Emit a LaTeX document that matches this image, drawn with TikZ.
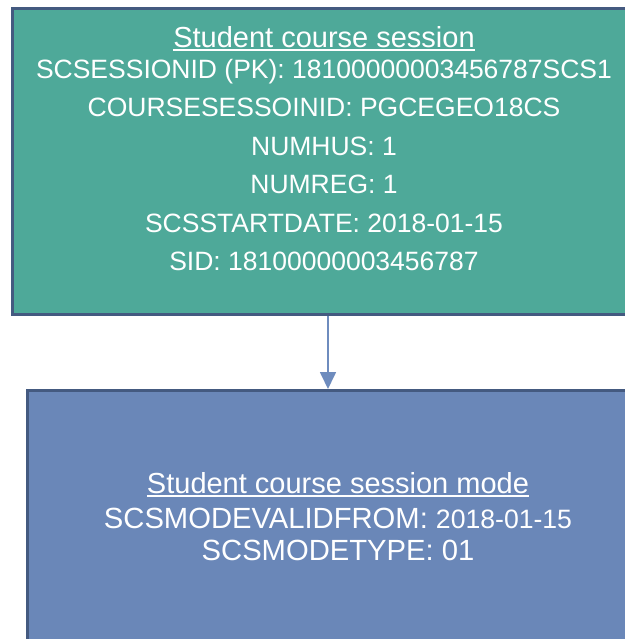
\documentclass[tikz,border=0pt]{standalone}
\usepackage{fontspec}
\setmainfont{Liberation Sans}
\usetikzlibrary{arrows.meta}
\definecolor{sessgreen}{HTML}{4EA999}
\definecolor{modeblue}{HTML}{6A87B8}
\definecolor{boxline}{HTML}{445A80}
\definecolor{linkblue}{HTML}{6E8CBE}
\newcommand{\headline}[1]{\setbox0\hbox{#1}\rlap{\rule[-2.2pt]{\wd0}{1pt}}\box0}
\tikzset{
  entity/.style={draw=boxline, line width=1.5pt, rectangle, inner sep=0pt},
  txt/.style={text=white, anchor=base, inner sep=0pt, font=\fontsize{13.25}{16}\selectfont},
  modetxt/.style={txt, font=\fontsize{14.6}{17}\selectfont},
  head/.style={txt, font=\fontsize{14.5}{17}\selectfont},
  link/.style={draw=linkblue, line width=0.85pt, -{Triangle[width=8pt,length=8.5pt]}}
}
\begin{document}
\begin{tikzpicture}[x=0.5pt,y=-0.5pt]
\useasboundingbox (0,0) rectangle (625,639);
\clip (0,0) rectangle (625,639);
\node[entity, fill=sessgreen, minimum width=311.5pt, minimum height=153pt] (session) at (324,161.5) {};
\node[entity, fill=modeblue, minimum width=310.5pt, minimum height=126pt] (mode) at (338,516.5) {};
\coordinate (tip) at (328,388);
\draw[link] (session.south -| tip) -- (tip |- mode.north);

\node[head] (sesstitle) at (324,47) {\headline{Student course session}};
\foreach \y/\t [count=\i] in {78/{SCSESSIONID (PK): 18100000003456787SCS1},
    116/{COURSESESSOINID: PGCEGEO18CS}, 155/{NUMHUS: 1}, 193/{NUMREG: 1},
    232/{SCSSTARTDATE: 2018-01-15}, 270/{SID: 18100000003456787}} {
    \node[txt] (sess\i) at (324,\y) {\t};
}

\node[head] (modetitle) at (338,493) {\headline{Student course session mode}};
\node[modetxt] (mode1) at (338,528) {SCSMODEVALIDFROM: {\fontsize{13.3}{17}\selectfont 2018-01-15}};
\node[modetxt] (mode2) at (338,560) {SCSMODETYPE: 01};
\end{tikzpicture}
\end{document}
